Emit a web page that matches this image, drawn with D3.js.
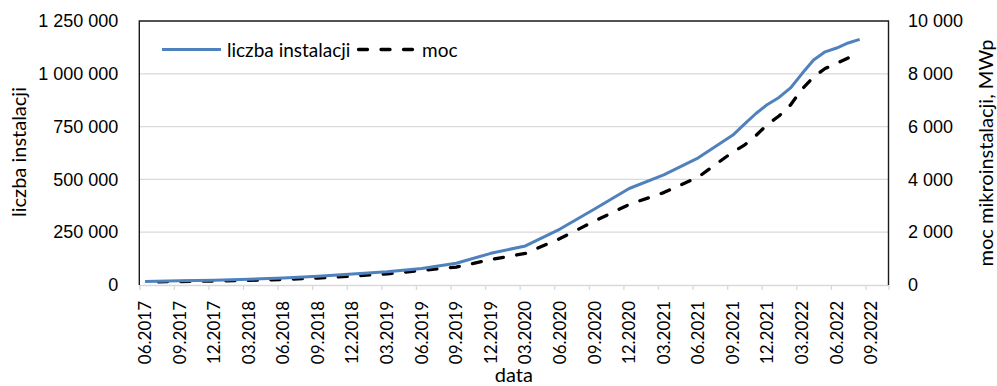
<!DOCTYPE html>
<html>
<head>
<meta charset="utf-8">
<script src="https://cdn.jsdelivr.net/npm/d3@7"></script>
<style>
  html, body { margin: 0; padding: 0; background: #fff; }
  svg { display: block; font-family: Lato, "Open Sans", sans-serif; }
</style>
</head>
<body>
<svg id="chart" width="997" height="386"></svg>
<script>
// Quarterly axis labels (month.year)
const tickLabels = ["06.2017","09.2017","12.2017","03.2018","06.2018","09.2018","12.2018",
  "03.2019","06.2019","09.2019","12.2019","03.2020","06.2020","09.2020","12.2020",
  "03.2021","06.2021","09.2021","12.2021","03.2022","06.2022","09.2022"];

// Reporting months of the series (YYYY-MM)
const dates = ["2017-06","2017-09","2017-12","2018-03","2018-06","2018-09","2018-12",
  "2019-03","2019-06","2019-09","2019-12","2020-03","2020-06","2020-09","2020-12",
  "2021-03","2021-06","2021-09","2021-10","2021-11","2021-12","2022-01","2022-02",
  "2022-03","2022-04","2022-05","2022-06","2022-07","2022-08"];

// Number of micro-installations
const installations = [17000,20000,23000,27000,33000,41000,52000,63000,78000,103000,
  150000,185000,265000,360000,457000,521000,602000,710000,762000,812000,855000,
  888000,933000,1001000,1065000,1104000,1122000,1146000,1163000];

// Installed capacity, MWp (no value yet for the last month)
const powerMW = [115,130,150,175,210,265,340,420,550,680,965,1195,1760,2420,3050,
  3500,4090,5040,5300,5660,6080,6400,6820,7420,7880,8200,8390,8600,null];

const leftTicks = [0,250000,500000,750000,1000000,1250000];
const rightTicks = [0,2000,4000,6000,8000,10000];

const seriesNames = ["liczba instalacji", "moc"];
const axisTitles = { x: "data", left: "liczba instalacji", right: "moc mikroinstalacji, MWp" };

// ---- helpers ----
const fmt = v => d3.format(",")(v).replace(/,/g, "\u00a0");
const idxFromDate = s => { const [y, m] = s.split("-").map(Number); return (y - 2017) * 12 + (m - 6); };
const idxFromLabel = s => { const [m, y] = s.split(".").map(Number); return (y - 2017) * 12 + (m - 6); };

// ---- layout ----
const svg = d3.select("#chart");
const plot = { left: 139.3, right: 888.5, top: 21, bottom: 285 };
const nMonths = 65; // 06.2017 .. 10.2022 inclusive

const x = d3.scaleLinear().domain([0, nMonths]).range([plot.left, plot.right]);
const yL = d3.scaleLinear().domain([0, 1250000]).range([plot.bottom, plot.top]);
const yR = d3.scaleLinear().domain([0, 10000]).range([plot.bottom, plot.top]);

const textColor = "#000";
const tickFont = 18;
const dateFont = 17;
const legendFont = 19;
const titleFont = 20;

// gridlines
svg.append("g").selectAll("line").data(leftTicks.slice(1, -1)).join("line")
  .attr("x1", plot.left).attr("x2", plot.right)
  .attr("y1", d => yL(d)).attr("y2", d => yL(d))
  .attr("stroke", "#d9d9d9").attr("stroke-width", 1.3);

// x axis: ticks at month boundaries, labels in the middle of the month
const xAxis = d3.axisBottom(x)
  .tickValues(tickLabels.map(idxFromLabel))
  .tickSize(5)
  .tickFormat("");
const gx = svg.append("g").attr("transform", `translate(0,${plot.bottom})`).call(xAxis);
gx.select(".domain").attr("stroke", "#d9d9d9").attr("stroke-width", 1.3);
gx.selectAll(".tick line").attr("stroke", "#d9d9d9").attr("stroke-width", 1.3);

svg.append("g").selectAll("text").data(tickLabels).join("text")
  .attr("transform", d => `translate(${x(idxFromLabel(d) + 0.5)},${plot.bottom + 16}) rotate(-90)`)
  .attr("dy", "0.35em")
  .attr("text-anchor", "end")
  .attr("font-size", dateFont)
  .attr("fill", textColor)
  .text(d => d);

// left axis labels
const gl = svg.append("g").attr("transform", `translate(${plot.left},0)`)
  .call(d3.axisLeft(yL).tickValues(leftTicks).tickSize(0).tickPadding(21).tickFormat(fmt));
gl.select(".domain").remove();
gl.selectAll("text").attr("font-size", tickFont).attr("fill", textColor).attr("font-family", null);

// right axis labels
const gr = svg.append("g").attr("transform", `translate(${plot.right},0)`)
  .call(d3.axisRight(yR).tickValues(rightTicks).tickSize(0).tickPadding(19.5).tickFormat(fmt));
gr.select(".domain").remove();
gr.selectAll("text").attr("font-size", tickFont).attr("fill", textColor).attr("font-family", null);

// plot frame (top, left, right)
svg.append("path")
  .attr("d", `M${plot.left},${plot.bottom} V${plot.top} H${plot.right} V${plot.bottom}`)
  .attr("fill", "none").attr("stroke", "#1a1a1a").attr("stroke-width", 1.4);

// series
const instData = dates.map((d, i) => ({ m: idxFromDate(d) + 0.5, v: installations[i] }));
const powData = dates.map((d, i) => ({ m: idxFromDate(d) + 0.5, v: powerMW[i] })).filter(d => d.v != null);

const blue = "#4f81bd";
const dash = 9, gap = 13.5;

const powPath = svg.append("path").datum(powData)
  .attr("d", d3.line().x(d => x(d.m)).y(d => yR(d.v)))
  .attr("fill", "none").attr("stroke", "#000").attr("stroke-width", 3.3)
  .attr("stroke-dasharray", `${dash} ${gap}`).attr("stroke-linecap", "round").attr("stroke-linejoin", "round");
// shift the dash pattern so the line finishes on a dash
const L = powPath.node().getTotalLength();
const P = dash + gap;
powPath.attr("stroke-dashoffset", (((dash - L) % P) + P) % P);

svg.append("path").datum(instData)
  .attr("d", d3.line().x(d => x(d.m)).y(d => yL(d.v)))
  .attr("fill", "none").attr("stroke", blue).attr("stroke-width", 3)
  .attr("stroke-linejoin", "round");

// legend
const lg = svg.append("g");
lg.append("line").attr("x1", 162).attr("x2", 221).attr("y1", 49.5).attr("y2", 49.5)
  .attr("stroke", blue).attr("stroke-width", 3);
lg.append("text").attr("x", 227).attr("y", 56.5).attr("font-size", legendFont).attr("fill", textColor).text(seriesNames[0]);
lg.append("line").attr("x1", 358.5).attr("x2", 414).attr("y1", 49.5).attr("y2", 49.5)
  .attr("stroke", "#000").attr("stroke-width", 3.3)
  .attr("stroke-dasharray", `${dash} ${gap}`).attr("stroke-linecap", "round");
lg.append("text").attr("x", 422).attr("y", 56.5).attr("font-size", legendFont).attr("fill", textColor).text(seriesNames[1]);

// axis titles
svg.append("text").attr("x", (plot.left + plot.right) / 2).attr("y", 382)
  .attr("text-anchor", "middle").attr("font-size", titleFont).attr("fill", textColor).text(axisTitles.x);
svg.append("text").attr("transform", `translate(26,152) rotate(-90)`)
  .attr("text-anchor", "middle").attr("font-size", titleFont).attr("fill", textColor).text(axisTitles.left);
svg.append("text").attr("transform", `translate(993,153) rotate(-90)`)
  .attr("text-anchor", "middle").attr("font-size", titleFont).attr("fill", textColor).text(axisTitles.right);
</script>
</body>
</html>
